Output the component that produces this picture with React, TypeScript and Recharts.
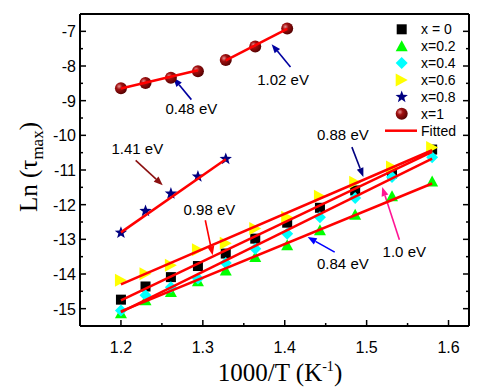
import React from "react";
import {
  ComposedChart,
  Scatter,
  Line,
  XAxis,
  YAxis,
  ReferenceLine,
  ReferenceDot,
  Legend,
} from "recharts";

const SANS = "'Liberation Sans', Arial, Helvetica, sans-serif";
const SERIF = "'Liberation Serif', 'Times New Roman', serif";

// 1000/T values (K^-1)
const xVals = [1.2, 1.23, 1.261, 1.294, 1.328, 1.364, 1.403, 1.443, 1.486, 1.531, 1.58];
const lnX0 = [-14.74, -14.36, -14.09, -13.77, -13.41, -12.98, -12.52, -12.09, -11.59, -11.1, -10.41];
const lnX02 = [-15.13, -14.76, -14.52, -14.21, -13.9, -13.51, -13.17, -12.74, -12.29, -11.76, -11.33];
const lnX04 = [-15.05, -14.61, -14.38, -14.13, -13.68, -13.27, -12.84, -12.36, -11.81, -11.2, -10.63];
const lnX06 = [-14.18, -13.99, -13.75, -13.3, -13.11, -12.69, -12.36, -11.76, -11.35, -10.91, -10.35];

const xStar = [1.2, 1.23, 1.261, 1.294, 1.328];
const lnX08 = [-12.81, -12.18, -11.68, -11.19, -10.68];

const xX1Low = [1.2, 1.23, 1.261, 1.294];
const lnX1Low = [-8.64, -8.49, -8.34, -8.15];
const xX1High = [1.328, 1.364, 1.403];
const lnX1High = [-7.83, -7.44, -6.92];

// fitted line end points
const fitX = [1.2, 1.58];
const fitX0 = [-14.76, -10.48];
const fitX02 = [-15.08, -11.39];
const fitX04 = [-15.1, -10.67];
const fitX06 = [-14.3, -10.43];
const fitX08X = [1.2, 1.328];
const fitX08 = [-12.8, -10.69];
const fitX1LowX = [1.2, 1.294];
const fitX1Low = [-8.65, -8.12];
const fitX1HighX = [1.328, 1.403];
const fitX1High = [-7.84, -6.93];

const xTicks = [1.2, 1.25, 1.3, 1.35, 1.4, 1.45, 1.5, 1.55, 1.6];
const yTicks = [-15, -14.5, -14, -13.5, -13, -12.5, -12, -11.5, -11, -10.5, -10, -9.5, -9, -8.5, -8, -7.5, -7];

const legendLabels = ["x = 0", "x=0.2", "x=0.4", "x=0.6", "x=0.8", "x=1"];

// activation energy annotations (data coords)
const arrows = [
  { from: [1.218, -10.72], to: [1.251, -11.44], color: "#8b1010" },
  { from: [1.303, -12.45], to: [1.312, -13.46], color: "#ff0000" },
  { from: [1.461, -13.37], to: [1.428, -12.93], color: "#0000ff" },
  { from: [1.54, -13.01], to: [1.519, -11.49], color: "#ff1493" },
  { from: [1.482, -10.34], to: [1.496, -11.2], color: "#000080" },
  { from: [1.286, -8.97], to: [1.264, -8.34], color: "#0000a0" },
  { from: [1.407, -8.03], to: [1.384, -7.37], color: "#0000a0" },
];
const notes = [
  { text: "1.41 eV", x: 1.22, y: -10.38 },
  { text: "0.98 eV", x: 1.308, y: -12.16 },
  { text: "0.84 eV", x: 1.471, y: -13.7 },
  { text: "1.0 eV", x: 1.546, y: -13.37 },
  { text: "0.88 eV", x: 1.471, y: -10.0 },
  { text: "0.48 eV", x: 1.286, y: -9.23 },
  { text: "1.02 eV", x: 1.398, y: -8.41 },
];

const toPts = (xs: number[], ys: number[]) => xs.map((x, i) => ({ x, y: ys[i] }));

function Square({ cx, cy }: any) {
  return <rect x={cx - 5} y={cy - 5} width={10} height={10} fill="#000" />;
}
function TriUp({ cx, cy }: any) {
  return <polygon points={`${cx},${cy - 6} ${cx - 6},${cy + 5} ${cx + 6},${cy + 5}`} fill="#00ff00" />;
}
function Diamond({ cx, cy }: any) {
  return <polygon points={`${cx},${cy - 6} ${cx + 6},${cy} ${cx},${cy + 6} ${cx - 6},${cy}`} fill="#00ffff" />;
}
function TriRight({ cx, cy }: any) {
  return <polygon points={`${cx - 6},${cy - 6.5} ${cx + 6},${cy} ${cx - 6},${cy + 6.5}`} fill="#ffff00" />;
}
function Star({ cx, cy }: any) {
  const pts: string[] = [];
  for (let i = 0; i < 10; i++) {
    const r = i % 2 === 0 ? 6.5 : 2.7;
    const a = -Math.PI / 2 + (i * Math.PI) / 5;
    pts.push(`${cx + r * Math.cos(a)},${cy + r * Math.sin(a)}`);
  }
  return <polygon points={pts.join(" ")} fill="#000080" />;
}
function Sphere({ cx, cy }: any) {
  return (
    <g>
      <defs>
        <radialGradient id="sphereGrad" cx="35%" cy="35%" r="70%">
          <stop offset="0%" stopColor="#e89090" />
          <stop offset="35%" stopColor="#a01010" />
          <stop offset="100%" stopColor="#500000" />
        </radialGradient>
      </defs>
      <circle cx={cx} cy={cy} r={6} fill="url(#sphereGrad)" />
    </g>
  );
}

const markers = [Square, TriUp, Diamond, TriRight, Star, Sphere];

function BottomTick({ x, y, payload }: any) {
  const v = payload.value;
  const major = Math.abs(v * 10 - Math.round(v * 10)) < 1e-6;
  return (
    <g>
      <line x1={x} y1={y} x2={x} y2={y - (major ? 6 : 3)} stroke="#000" strokeWidth={1.5} />
      {major && (
        <text x={x} y={y + 27} textAnchor="middle" fontSize={16} fontFamily={SANS} fill="#000">
          {v.toFixed(1)}
        </text>
      )}
    </g>
  );
}
function TopTick({ x, y, payload }: any) {
  const v = payload.value;
  const major = Math.abs(v * 10 - Math.round(v * 10)) < 1e-6;
  return <line x1={x} y1={y} x2={x} y2={y + (major ? 6 : 3)} stroke="#000" strokeWidth={1.5} />;
}
function LeftTick({ x, y, payload }: any) {
  const v = payload.value;
  const major = Number.isInteger(v);
  return (
    <g>
      <line x1={x} y1={y} x2={x + (major ? 6 : 3)} y2={y} stroke="#000" strokeWidth={1.5} />
      {major && (
        <text x={x - 4} y={y + 6} textAnchor="end" fontSize={16} fontFamily={SANS} fill="#000">
          {String(v)}
        </text>
      )}
    </g>
  );
}
function RightTick({ x, y, payload }: any) {
  const major = Number.isInteger(payload.value);
  return <line x1={x} y1={y} x2={x - (major ? 6 : 3)} y2={y} stroke="#000" strokeWidth={1.5} />;
}

function Arrow(props: any) {
  const { x1, y1, x2, y2, stroke } = props;
  const a = Math.atan2(y2 - y1, x2 - x1);
  const L = 9;
  const W = 3.5;
  const bx = x2 - L * Math.cos(a);
  const by = y2 - L * Math.sin(a);
  const p1 = `${bx + W * Math.sin(a)},${by - W * Math.cos(a)}`;
  const p2 = `${bx - W * Math.sin(a)},${by + W * Math.cos(a)}`;
  return (
    <g>
      <line x1={x1} y1={y1} x2={bx} y2={by} stroke={stroke} strokeWidth={1.6} />
      <polygon points={`${x2},${y2} ${p1} ${p2}`} fill={stroke} />
    </g>
  );
}

function LegendBox() {
  return (
    <svg width={105} height={125} style={{ display: "block" }}>
      {legendLabels.map((label, i) => {
        const M = markers[i];
        const cy = 11.3 + 16.9 * i;
        return (
          <g key={label}>
            <M cx={23.7} cy={cy} />
            <text x={43} y={cy + 5} fontSize={14} fontFamily={SANS} fill="#000">
              {label}
            </text>
          </g>
        );
      })}
      <line x1={7} y1={112.7} x2={39} y2={112.7} stroke="#ff0000" strokeWidth={2.5} />
      <text x={43} y={117.7} fontSize={14} fontFamily={SANS} fill="#000">
        Fitted
      </text>
    </svg>
  );
}

const scatterSets = [
  { xs: xVals, ys: lnX0, M: Square },
  { xs: xVals, ys: lnX02, M: TriUp },
  { xs: xVals, ys: lnX04, M: Diamond },
  { xs: xVals, ys: lnX06, M: TriRight },
  { xs: xStar, ys: lnX08, M: Star },
  { xs: xX1Low, ys: lnX1Low, M: Sphere },
  { xs: xX1High, ys: lnX1High, M: Sphere },
];

const fitSets = [
  { xs: fitX, ys: fitX0 },
  { xs: fitX, ys: fitX02 },
  { xs: fitX, ys: fitX04 },
  { xs: fitX, ys: fitX06 },
  { xs: fitX08X, ys: fitX08 },
  { xs: fitX1LowX, ys: fitX1Low },
  { xs: fitX1HighX, ys: fitX1High },
];

export default function App() {
  return (
    <div style={{ position: "absolute", left: 0, top: 0, width: 485, height: 388, background: "#fff" }}>
      <ComposedChart width={485} height={388} margin={{ top: 0, right: 0, bottom: 0, left: 0 }}>
        <XAxis
          dataKey="x"
          type="number"
          domain={[1.15, 1.625]}
          allowDataOverflow
          ticks={xTicks}
          interval={0}
          height={62}
          tickLine={false}
          tickSize={0}
          tickMargin={0}
          tick={BottomTick}
          axisLine={{ stroke: "#000", strokeWidth: 2 }}
          label={{
            content: () => (
              <text x={280} y={381} textAnchor="middle" fontSize={25} fontFamily={SERIF} fill="#000">
                1000/T (K
                <tspan fontSize={14} dy={-10}>
                  -1
                </tspan>
                <tspan dy={10}>)</tspan>
              </text>
            ),
          }}
        />
        <XAxis
          xAxisId="top"
          orientation="top"
          type="number"
          domain={[1.15, 1.625]}
          allowDataOverflow
          ticks={xTicks}
          interval={0}
          height={14}
          tickLine={false}
          tickSize={0}
          tickMargin={0}
          tick={TopTick}
          axisLine={{ stroke: "#000", strokeWidth: 2 }}
        />
        <YAxis
          dataKey="y"
          type="number"
          domain={[-15.5, -6.5]}
          allowDataOverflow
          ticks={yTicks}
          interval={0}
          width={80}
          tickLine={false}
          tickSize={0}
          tickMargin={0}
          tick={LeftTick}
          axisLine={{ stroke: "#000", strokeWidth: 2 }}
          label={{
            content: () => (
              <text
                transform="translate(37,167) rotate(-90)"
                textAnchor="middle"
                fontSize={25}
                fontFamily={SERIF}
                fill="#000"
              >
                Ln (τ
                <tspan fontSize={17} dy={6}>
                  max
                </tspan>
                <tspan dy={-6}>)</tspan>
              </text>
            ),
          }}
        />
        <YAxis
          yAxisId="right"
          orientation="right"
          type="number"
          domain={[-15.5, -6.5]}
          allowDataOverflow
          ticks={yTicks}
          interval={0}
          width={16}
          tickLine={false}
          tickSize={0}
          tickMargin={0}
          tick={RightTick}
          axisLine={{ stroke: "#000", strokeWidth: 2 }}
        />
        {scatterSets.map((s, i) => (
          <Scatter
            key={"s" + i}
            data={toPts(s.xs, s.ys)}
            dataKey="y"
            shape={(p: any) => <s.M cx={p.cx} cy={p.cy} />}
            isAnimationActive={false}
            legendType="none"
          />
        ))}
        {fitSets.map((f, i) => (
          <Line
            key={"f" + i}
            data={toPts(f.xs, f.ys)}
            dataKey="y"
            stroke="#ff0000"
            strokeWidth={2.5}
            dot={false}
            activeDot={false}
            isAnimationActive={false}
            legendType="none"
            zIndex={700}
          />
        ))}
        {arrows.map((a, i) => (
          <ReferenceLine
            key={"a" + i}
            segment={[
              { x: a.from[0], y: a.from[1] },
              { x: a.to[0], y: a.to[1] },
            ]}
            stroke={a.color}
            shape={Arrow}
          />
        ))}
        {notes.map((n, i) => (
          <ReferenceDot
            key={"n" + i}
            x={n.x}
            y={n.y}
            r={0}
            shape={(p: any) => (
              <text x={p.cx} y={p.cy + 5} textAnchor="middle" fontSize={15} fontFamily={SANS} fill="#000">
                {n.text}
              </text>
            )}
          />
        ))}
        <Legend
          layout="vertical"
          align="center"
          verticalAlign="middle"
          wrapperStyle={{ top: 18, left: 378, width: 105, height: 125 }}
          content={() => <LegendBox />}
        />
      </ComposedChart>
    </div>
  );
}
